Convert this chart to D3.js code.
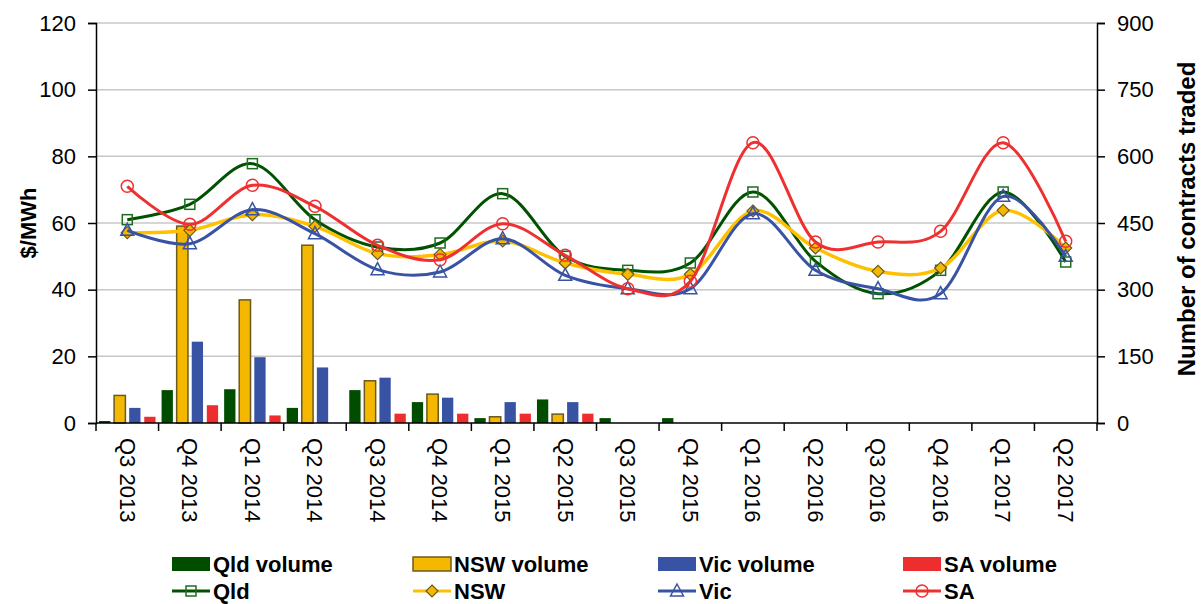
<!DOCTYPE html>
<html>
<head>
<meta charset="utf-8">
<script src="https://cdn.jsdelivr.net/npm/d3@7"></script>
<style>
body{margin:0;background:#fff;}
text{font-family:"Liberation Sans",Arial,sans-serif;fill:#000;}
</style>
</head>
<body>
<script>
// quarters on the x axis
const quarters = ["Q3 2013","Q4 2013","Q1 2014","Q2 2014","Q3 2014","Q4 2014","Q1 2015","Q2 2015",
                  "Q3 2015","Q4 2015","Q1 2016","Q2 2016","Q3 2016","Q4 2016","Q1 2017","Q2 2017"];

// contracts traded (right axis)
const qldVolume = [4.5, 74, 76, 34, 74, 47, 11, 53, 11, 11, 0, 0, 0, 0, 0, 0];
const nswVolume = [62, 443, 277, 400, 95, 65, 14, 20, 0, 0, 0, 0, 0, 0, 0, 0];
const vicVolume = [34, 183, 148, 125, 102, 57, 47, 47, 0, 0, 0, 0, 0, 0, 0, 0];
const saVolume  = [14, 40, 17, 0, 21, 21, 21, 21, 0, 0, 0, 0, 0, 0, 0, 0];

// prices $/MWh (left axis)
const qldPrice = [61.0, 65.6, 77.8, 61.0, 52.8, 54.0, 68.8, 50.0, 45.8, 48.0, 69.3, 48.5, 38.8, 45.8, 69.3, 48.3];
const nswPrice = [57.1, 57.8, 62.5, 59.0, 50.8, 50.5, 54.6, 48.0, 44.6, 44.6, 63.6, 52.5, 45.5, 46.5, 63.8, 52.5];
const vicPrice = [57.8, 53.8, 64.0, 56.8, 46.0, 45.3, 55.3, 44.3, 40.3, 40.3, 62.8, 45.8, 40.3, 38.8, 68.0, 50.0];
const saPrice  = [71.0, 59.6, 71.3, 65.0, 53.3, 49.0, 59.8, 50.3, 40.3, 42.5, 84.1, 54.3, 54.3, 57.5, 84.1, 54.5];

const leftTicks = [0, 20, 40, 60, 80, 100, 120];
const rightTicks = [0, 150, 300, 450, 600, 750, 900];

const w = 1201, h = 604;
const padL = 96, padR = 1097, padT = 23, padB = 423;

const svg = d3.select("body").append("svg").attr("width", w).attr("height", h);

const x = d3.scaleBand().domain(quarters).range([padL, padR]).padding(0);
const y = d3.scaleLinear().domain([0, 120]).range([padB, padT]);
const yR = d3.scaleLinear().domain([0, 900]).range([padB, padT]);

// gridlines
svg.append("g").selectAll("line")
  .data(leftTicks.filter(d => d > 0))
  .enter().append("line")
  .attr("x1", padL).attr("x2", padR)
  .attr("y1", d => y(d)).attr("y2", d => y(d))
  .attr("stroke", "#c8c8c8").attr("stroke-width", 1.5);

// bars
const barSeries = [
  {name: "Qld volume", values: qldVolume, color: "#004d00", stroke: "none"},
  {name: "NSW volume", values: nswVolume, color: "#f5b800", stroke: "#6b5a1e"},
  {name: "Vic volume", values: vicVolume, color: "#3953a4", stroke: "none"},
  {name: "SA volume",  values: saVolume,  color: "#ee2e2e", stroke: "none"}
];
const x1 = d3.scaleBand().domain(barSeries.map(s => s.name))
  .range([0, x.bandwidth()]).paddingInner(0.25).paddingOuter(0.2);

barSeries.forEach(function(s){
  svg.append("g").selectAll("rect")
    .data(s.values.map((v, i) => ({q: quarters[i], v: v})).filter(d => d.v > 0))
    .enter().append("rect")
    .attr("x", d => x(d.q) + x1(s.name))
    .attr("y", d => yR(d.v))
    .attr("width", x1.bandwidth())
    .attr("height", d => padB - yR(d.v))
    .attr("fill", s.color)
    .attr("stroke", s.stroke)
    .attr("stroke-width", 1.5);
});

// lines
const lineSeries = [
  {name: "Qld", values: qldPrice, color: "#005200", mark: "#1e6e1e", sym: "square"},
  {name: "NSW", values: nswPrice, color: "#ffc000", mark: "#6b5a1e", sym: "diamond"},
  {name: "Vic", values: vicPrice, color: "#3953a4", mark: "#3953a4", sym: "triangle"},
  {name: "SA",  values: saPrice,  color: "#ee3030", mark: "#ee3030", sym: "circle"}
];
const line = d3.line()
  .x((d, i) => x(quarters[i]) + x.bandwidth() / 2)
  .y(d => y(d))
  .curve(d3.curveCardinal.tension(0));

function drawMarker(g, sym, cx, cy, color) {
  if (sym === "square") {
    g.append("rect").attr("x", cx - 5).attr("y", cy - 5).attr("width", 10).attr("height", 10)
      .attr("fill", "none").attr("stroke", color).attr("stroke-width", 1.5);
  } else if (sym === "diamond") {
    g.append("path").attr("d", `M${cx},${cy-6}L${cx+6},${cy}L${cx},${cy+6}L${cx-6},${cy}Z`)
      .attr("fill", "#f5b800").attr("stroke", color).attr("stroke-width", 1.2);
  } else if (sym === "triangle") {
    g.append("path").attr("d", `M${cx},${cy-7}L${cx+6.5},${cy+5}L${cx-6.5},${cy+5}Z`)
      .attr("fill", "none").attr("stroke", color).attr("stroke-width", 1.5);
  } else {
    g.append("circle").attr("cx", cx).attr("cy", cy).attr("r", 6)
      .attr("fill", "none").attr("stroke", color).attr("stroke-width", 1.5);
  }
}

lineSeries.forEach(function(s){
  const g = svg.append("g");
  g.append("path").datum(s.values)
    .attr("d", line)
    .attr("fill", "none")
    .attr("stroke", s.color)
    .attr("stroke-width", s.name === "NSW" ? 3.5 : 3);
  s.values.forEach(function(v, i){
    drawMarker(g, s.sym, x(quarters[i]) + x.bandwidth() / 2, y(v), s.mark);
  });
});

// axes
const yAxis = d3.axisLeft(y).tickValues(leftTicks).tickSize(8).tickPadding(12);
const yAxisR = d3.axisRight(yR).tickValues(rightTicks).tickSize(8).tickPadding(12);

const gl = svg.append("g").attr("transform", "translate(" + padL + ",0)").call(yAxis);
const gr = svg.append("g").attr("transform", "translate(" + padR + ",0)").call(yAxisR);
[gl, gr].forEach(function(g){
  g.select(".domain").attr("stroke", "#000").attr("stroke-width", 1.5);
  g.selectAll(".tick line").attr("stroke", "#000").attr("stroke-width", 1.5);
  g.selectAll(".tick text").style("font-size", "22px").attr("fill", "#000");
});

// x axis
const gx = svg.append("g");
gx.append("line").attr("x1", padL).attr("x2", padR).attr("y1", padB).attr("y2", padB)
  .attr("stroke", "#000").attr("stroke-width", 1.5);
gx.selectAll("line.tk")
  .data(quarters.concat(["end"]))
  .enter().append("line").attr("class", "tk")
  .attr("x1", (d, i) => padL + i * x.step()).attr("x2", (d, i) => padL + i * x.step())
  .attr("y1", padB).attr("y2", padB + 8)
  .attr("stroke", "#000").attr("stroke-width", 1.5);
gx.selectAll("text")
  .data(quarters)
  .enter().append("text")
  .attr("transform", d => "translate(" + (x(d) + x.bandwidth() / 2) + "," + (padB + 15) + ") rotate(90)")
  .attr("dy", "0.35em")
  .style("font-size", "22px")
  .text(d => d);

// axis titles
svg.append("text")
  .attr("transform", "translate(36," + ((padT + padB) / 2) + ") rotate(-90)")
  .attr("text-anchor", "middle")
  .style("font-size", "22px").style("font-weight", "bold")
  .text("$/MWh");
svg.append("text")
  .attr("transform", "translate(1195,219) rotate(-90)")
  .attr("text-anchor", "middle")
  .style("font-size", "24px").style("font-weight", "bold")
  .text("Number of contracts traded");

// legend
const legX = [172, 413, 658, 903];
const leg = svg.append("g");
barSeries.forEach(function(s, i){
  leg.append("rect").attr("x", legX[i]).attr("y", 557).attr("width", 38).attr("height", 14)
    .attr("fill", s.color).attr("stroke", s.stroke).attr("stroke-width", 1.5);
  leg.append("text").attr("x", legX[i] + 41).attr("y", 564).attr("dy", "0.35em")
    .style("font-size", "22px").style("font-weight", "bold").text(s.name);
});
lineSeries.forEach(function(s, i){
  leg.append("line").attr("x1", legX[i]).attr("x2", legX[i] + 38).attr("y1", 591).attr("y2", 591)
    .attr("stroke", s.color).attr("stroke-width", 3);
  drawMarker(leg, s.sym, legX[i] + 19, 591, s.mark);
  leg.append("text").attr("x", legX[i] + 41).attr("y", 591).attr("dy", "0.35em")
    .style("font-size", "22px").style("font-weight", "bold").text(s.name);
});
</script>
</body>
</html>
